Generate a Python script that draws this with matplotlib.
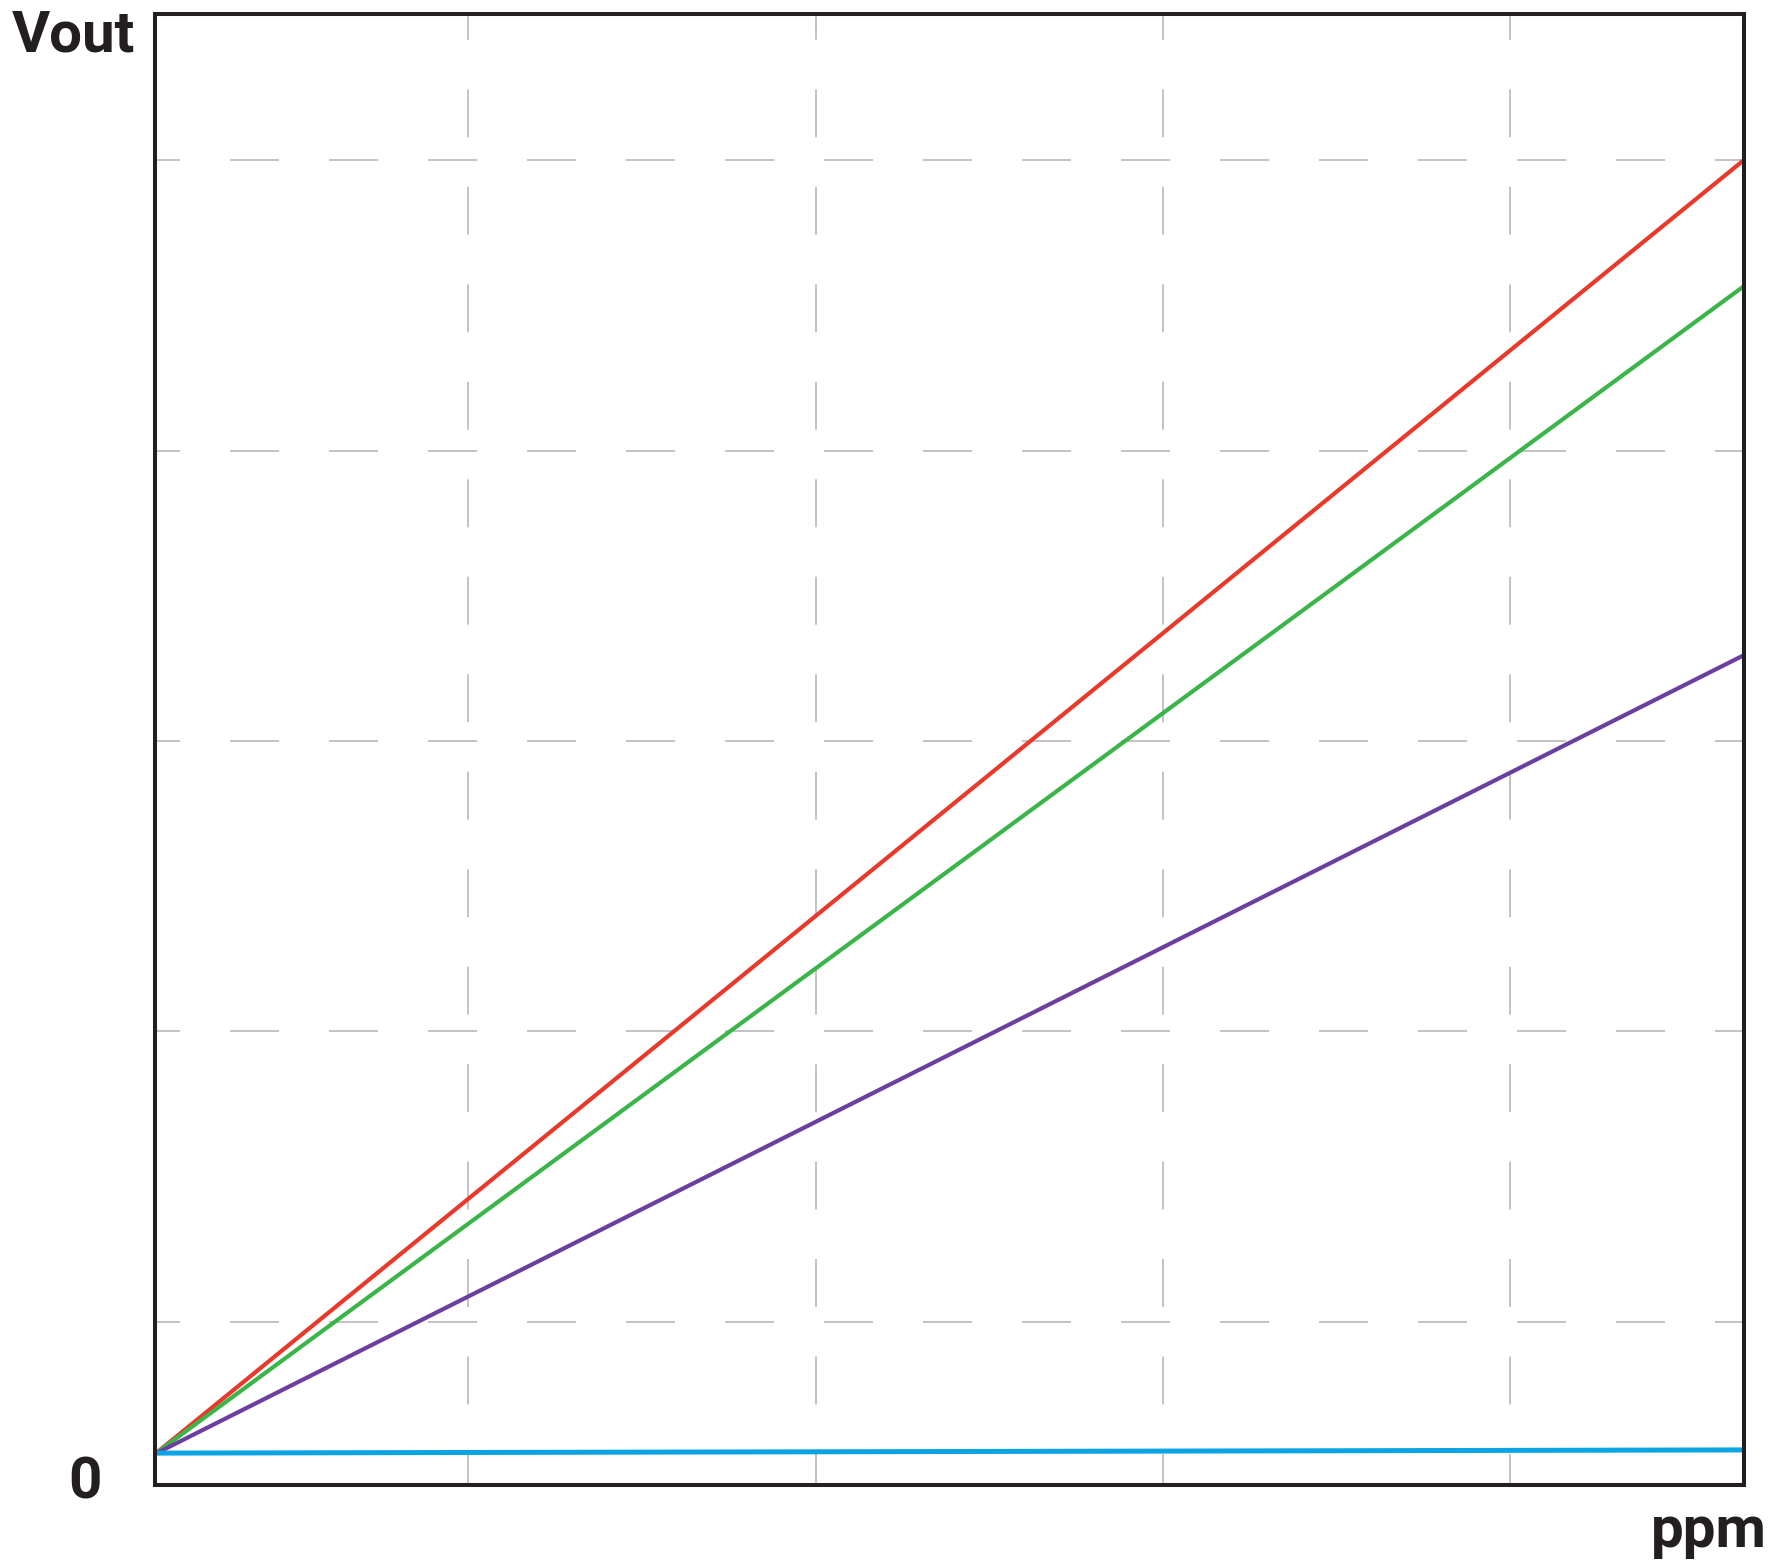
import matplotlib.pyplot as plt

# x in grid-spacing units (ppm), y in grid-spacing units (Vout)
x_max = 4.575
y_max = 5.062
grid_x = [0.901, 1.902, 2.902, 3.902]
grid_y = [0.559, 1.559, 2.559, 3.558, 4.557]

ppm = [0.0, 4.575]
vout_red = [0.105, 4.558]
vout_green = [0.105, 4.124]
vout_purple = [0.105, 2.854]
vout_cyan = [0.108, 0.119]

W, H, DPI = 1772, 1567, 100
fig = plt.figure(figsize=(W / DPI, H / DPI), dpi=DPI)
ax = fig.add_axes([155 / W, 1 - 1484.5 / H, (1744 - 155) / W, (1484.5 - 13.5) / H])

ax.set_xlim(0, x_max)
ax.set_ylim(0, y_max)
ax.set_xticks(grid_x)
ax.set_yticks(grid_y)
ax.set_xticklabels([])
ax.set_yticklabels([])
ax.tick_params(length=0)

grid_kw = dict(color="#b3b3b3", linewidth=1.1)
ax.grid(axis="x", linestyle=(11.1, (31.4, 32.4)), **grid_kw)
ax.grid(axis="y", linestyle=(15.7, (32.1, 32.7)), **grid_kw)
ax.set_axisbelow(True)

for s in ax.spines.values():
    s.set_linewidth(2.9)
    s.set_color("#231f20")

ax.plot(ppm, vout_red, color="#e8392b", linewidth=3.0, solid_capstyle="butt")
ax.plot(ppm, vout_green, color="#3bb44a", linewidth=3.0, solid_capstyle="butt")
ax.plot(ppm, vout_purple, color="#6b3fa0", linewidth=3.0, solid_capstyle="butt")
ax.plot(ppm, vout_cyan, color="#0aa5e2", linewidth=3.6, solid_capstyle="butt")

txt = dict(family="Roboto", weight="bold", fontsize=42, color="#231f20")
fig.text(12 / W, 1 - 51 / H, "Vout", ha="left", va="baseline", **txt)
fig.text(85 / W, 1 - 1483 / H, "0", ha="center", va="center", **txt)
fig.text(1767 / W, 1 - 1547 / H, "ppm", ha="right", va="baseline", **txt)

fig.savefig("out.png", dpi=DPI)
